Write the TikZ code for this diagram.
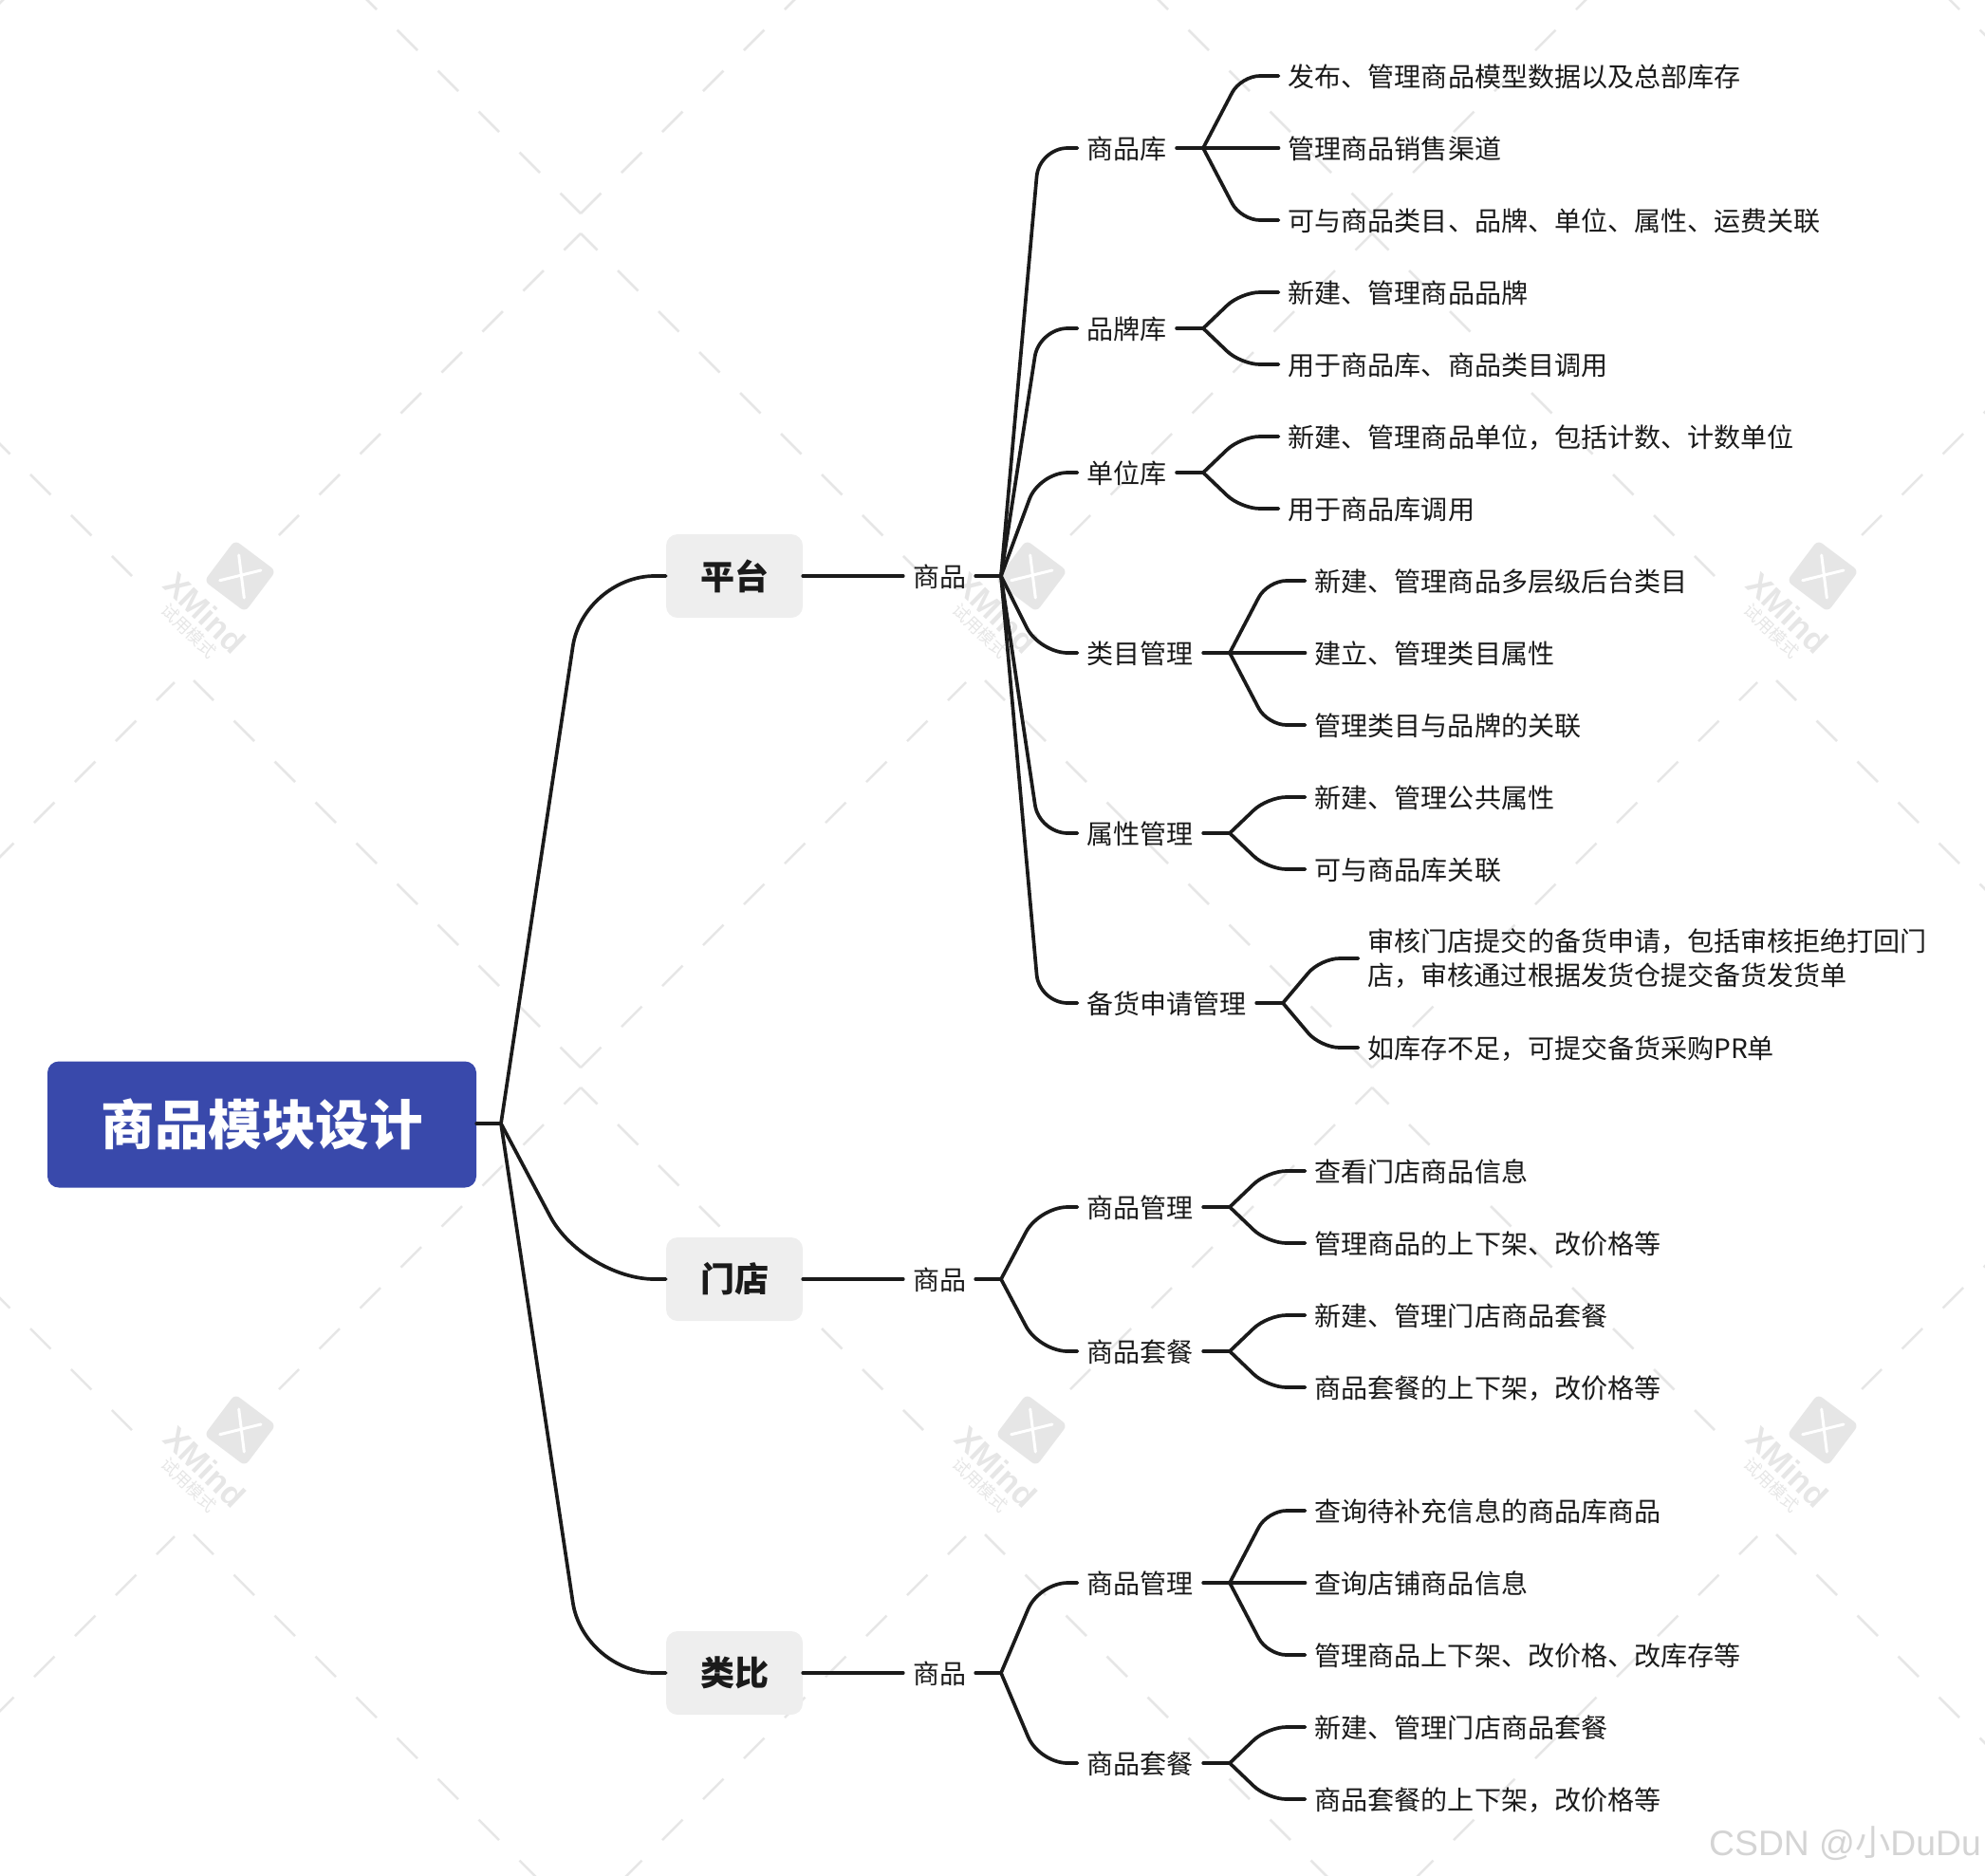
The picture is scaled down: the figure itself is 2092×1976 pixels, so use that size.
\documentclass[tikz,border=0pt]{standalone}
\usepackage{fontspec}
\setmainfont{Noto Sans CJK SC}
\newfontfamily\wmfont{Liberation Sans}
\newfontfamily\cjkfont{Noto Sans CJK SC}
\usepackage{tikz}
\usetikzlibrary{calc}

\definecolor{inkc}{HTML}{1A1A1A}
\definecolor{rootc}{HTML}{3949AB}
\definecolor{boxc}{HTML}{EEEEEE}
\definecolor{wmc}{HTML}{E6E6E6}

\newcommand{\branch}[3][20pt]{\draw[edge,rounded corners=#1] (#2) -- ($(#2 |- #3.west)!.5!(#3.west)$) -- (#3.west);}

\begin{document}
\begin{tikzpicture} [x=1pt,y=-1pt]
	 \tikzstyle{root}=[fill=rootc,rounded corners=12pt,text=white,font=\fontsize{56.5}{60}\selectfont\bfseries,minimum width=452pt,minimum height=133pt,inner sep=0pt]
	 \tikzstyle{topic}=[fill=boxc,rounded corners=12pt,text=inkc,font=\fontsize{36}{40}\selectfont\bfseries,minimum width=144pt,minimum height=88pt,inner sep=0pt]
	 \tikzstyle{goods}=[text=inkc,font=\fontsize{28}{36}\selectfont,inner xsep=10pt,inner ysep=0pt,text height=26.6pt,text depth=3.4pt]
	 \tikzstyle{itemlong}=[anchor=west,xshift=-1.5pt,text=inkc,font=\fontsize{28.05}{36}\selectfont,inner xsep=10pt,inner ysep=0pt,align=left]
	 \tikzstyle{item}=[itemlong,text height=26.6pt,text depth=3.4pt]
	 \tikzstyle{edge}=[draw,line width=3.7pt,line cap=round,inkc]
	 \tikzstyle{wmline}=[wmc,line width=2.5pt,dash pattern=on 30.4pt off 30.4pt]
	 \useasboundingbox (0,0) rectangle (2092,1976);

	 % watermark
	 \begin{scope}
	 \clip (0,0) rectangle (2092,1976);
	 \foreach \i in {-1,0,1,2} {
	 \foreach \j in {-1,0,1} {
		 \pgfmathsetmacro{\px}{612+834*\i}
		 \pgfmathsetmacro{\py}{246+900*\j}
		 \pgfmathsetmacro{\qy}{1125+900*\j}
		 \draw[wmline,dash phase=5.6pt] (\px,\py) -- ++(-318,318);
		 \draw[wmline,dash phase=5.6pt] (\px,\py) -- ++(361,361);
		 \draw[wmline] (\px,\qy) -- ++(-408,-408);
		 \draw[wmline] (\px,\qy) -- ++(406,-406);
	 }}
	 \foreach \i in {0,1,2} {
	 \foreach \j in {0,1} {
		 \pgfmathsetmacro{\cx}{253+834*\i}
		 \pgfmathsetmacro{\cy}{607+900*\j}
		 \node[fill=wmc,rounded corners=6pt,minimum size=54pt,inner sep=0pt,rotate=-37] (logo\i\j) at (\cx,\cy) {};
		 \draw[white,line width=3pt,line cap=round] (\cx-1.3,\cy-22) -- (\cx+4.3,\cy+23);
		 \draw[white,line width=3pt,line cap=round] (\cx-21.3,\cy+4.7) -- (\cx+22,\cy-6);
		 \node[wmc,rotate=-44,font=\wmfont\fontsize{34.5}{36}\selectfont\bfseries,inner sep=0pt] (xm\i\j) at (\cx-37,\cy+39) {XMind};
		 \node[wmc,rotate=-44,font=\fontsize{18}{20}\selectfont,inner sep=0pt] (try\i\j) at (\cx-54,\cy+58) {试用模式};
	 }}
	 \end{scope}

	 \node[root] (r0) at (276,1185) {商品模块设计};
	 \coordinate (j0) at (528,1184);

	 \node[topic] (t1) at (774,607) {平台};
	 \node[topic] (t2) at (774,1348) {门店};
	 \node[topic] (t3) at (774,1763) {类比};

	 \node[goods] (g1) at (990,607) {商品};
	 \node[goods] (g2) at (990,1348) {商品};
	 \node[goods] (g3) at (990,1763) {商品};
	 \coordinate (jg1) at (1055,607);
	 \coordinate (jg2) at (1055,1348);
	 \coordinate (jg3) at (1055,1763);

	 % platform
	 \node[item] (a1) at (1137,156) {商品库};
	 \node[item] (a2) at (1137,346) {品牌库};
	 \node[item] (a3) at (1137,498) {单位库};
	 \node[item] (a4) at (1137,688) {类目管理};
	 \node[item] (a5) at (1137,878) {属性管理};
	 \node[item] (a6) at (1137,1057) {备货申请管理};
	 \coordinate (ja1) at (1268,156);
	 \coordinate (ja2) at (1268,346);
	 \coordinate (ja3) at (1268,498);
	 \coordinate (ja4) at (1296,688);
	 \coordinate (ja5) at (1296,878);
	 \coordinate (ja6) at (1352,1057);

	 \node[item] (a11) at (1349,80) {发布、管理商品模型数据以及总部库存};
	 \node[item] (a12) at (1349,156) {管理商品销售渠道};
	 \node[item] (a13) at (1349,232) {可与商品类目、品牌、单位、属性、运费关联};
	 \node[item] (a21) at (1349,308) {新建、管理商品品牌};
	 \node[item] (a22) at (1349,384) {用于商品库、商品类目调用};
	 \node[item] (a31) at (1349,460) {新建、管理商品单位，包括计数、计数单位};
	 \node[item] (a32) at (1349,536) {用于商品库调用};
	 \node[item] (a41) at (1377,612) {新建、管理商品多层级后台类目};
	 \node[item] (a42) at (1377,688) {建立、管理类目属性};
	 \node[item] (a43) at (1377,764) {管理类目与品牌的关联};
	 \node[item] (a51) at (1377,840) {新建、管理公共属性};
	 \node[item] (a52) at (1377,916) {可与商品库关联};
	 \node[itemlong] (a61) at (1433,1010) {审核门店提交的备货申请，包括审核拒绝打回门\\店，审核通过根据发货仓提交备货发货单};
	 \node[item] (a62) at (1433,1104) {如库存不足，可提交备货采购PR单};

	 % store
	 \node[item] (b1) at (1137,1272) {商品管理};
	 \node[item] (b2) at (1137,1424) {商品套餐};
	 \coordinate (jb1) at (1296,1272);
	 \coordinate (jb2) at (1296,1424);
	 \node[item] (b11) at (1377,1234) {查看门店商品信息};
	 \node[item] (b12) at (1377,1310) {管理商品的上下架、改价格等};
	 \node[item] (b21) at (1377,1386) {新建、管理门店商品套餐};
	 \node[item] (b22) at (1377,1462) {商品套餐的上下架，改价格等};

	 % comparison
	 \node[item] (c1) at (1137,1668) {商品管理};
	 \node[item] (c2) at (1137,1858) {商品套餐};
	 \coordinate (jc1) at (1296,1668);
	 \coordinate (jc2) at (1296,1858);
	 \node[item] (c11) at (1377,1592) {查询待补充信息的商品库商品};
	 \node[item] (c12) at (1377,1668) {查询店铺商品信息};
	 \node[item] (c13) at (1377,1744) {管理商品上下架、改价格、改库存等};
	 \node[item] (c21) at (1377,1820) {新建、管理门店商品套餐};
	 \node[item] (c22) at (1377,1896) {商品套餐的上下架，改价格等};

	 \draw[edge] (r0.east |- j0) -- (j0);
	 \branch[75pt]{j0}{t1}
	 \branch[75pt]{j0}{t2}
	 \branch[75pt]{j0}{t3}

	 \draw[edge] (t1) -- (g1) (g1) -- (jg1);
	 \draw[edge] (t2) -- (g2) (g2) -- (jg2);
	 \draw[edge] (t3) -- (g3) (g3) -- (jg3);

	 \foreach \n in {a1,a2,a3,a4,a5,a6} {
		 \branch[30pt]{jg1}{\n}
	 }
	 \foreach \n in {b1,b2} {
		 \branch[30pt]{jg2}{\n}
	 }
	 \foreach \n in {c1,c2} {
		 \branch[30pt]{jg3}{\n}
	 }

	 \foreach \n/\m in {a1/ja1,a2/ja2,a3/ja3,a4/ja4,a5/ja5,a6/ja6,b1/jb1,b2/jb2,c1/jc1,c2/jc2}
		 \draw[edge] (\n) -- (\m);

	 \foreach \m/\n in {ja1/a11,ja1/a12,ja1/a13,ja2/a21,ja2/a22,ja3/a31,ja3/a32,ja4/a41,ja4/a42,ja4/a43,ja5/a51,ja5/a52,ja6/a61,ja6/a62,jb1/b11,jb1/b12,jb2/b21,jb2/b22,jc1/c11,jc1/c12,jc1/c13,jc2/c21,jc2/c22} {
		 \branch{\m}{\n}
	 }

	 \node[anchor=base west,text=black!17,inner sep=0pt,font=\wmfont\fontsize{37.3}{40}\selectfont] (csdn) at (1801,1955) {CSDN @{\cjkfont 小}DuDu};

 \end{tikzpicture}
\end{document}
